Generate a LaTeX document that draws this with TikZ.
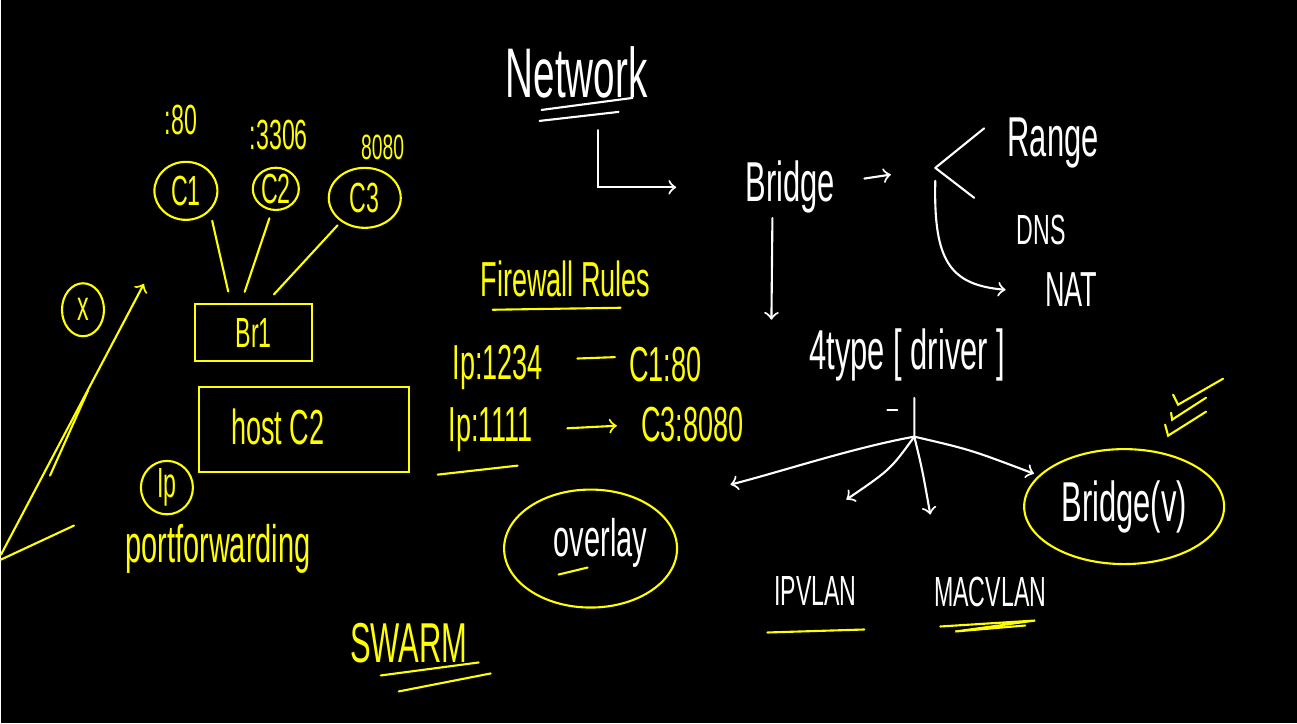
\documentclass[tikz,border=0pt]{standalone}
\usepackage{fontspec}
\setmainfont{Liberation Sans}
\usepackage{graphicx}
\usetikzlibrary{shapes.geometric}
\definecolor{CYellow}{HTML}{FFFF00}
\newcommand{\hw}[1]{\scalebox{0.55}[1]{#1}}
\newcommand{\fs}[1]{\fontsize{#1}{#1}\selectfont}

\begin{document}
\begin{tikzpicture}[x=0.01cm, y=-0.01cm, line width=0.6pt,
    wtxt/.style={text=white, inner sep=1pt, anchor=base},
    ytxt/.style={text=CYellow, inner sep=1pt, anchor=base},
    wline/.style={draw=white, line cap=round},
    yline/.style={draw=CYellow, line cap=round},
    blob/.style={draw=CYellow, ellipse, inner sep=0pt, text=CYellow},
    frame/.style={draw=CYellow, rectangle, inner sep=0pt, text=CYellow}
]
  \fill[black] (0,0) rectangle (1297,724);

  % containers on the left
  \node[ytxt, font=\fs{12}] (p80) at (180,135) {\hw{:80}};
  \node[ytxt, font=\fs{12}] (p3306) at (278,150) {\hw{:3306}};
  \node[ytxt, font=\fs{10}] (p8080) at (382,160) {\hw{8080}};
  \node[blob, font=\fs{12}, minimum width=0.63cm, minimum height=0.58cm] (c1) at (185,191) {\hw{C1}};
  \node[blob, font=\fs{12}, minimum width=0.46cm, minimum height=0.42cm] (c2) at (275,189) {\hw{C2}};
  \node[blob, font=\fs{12}, minimum width=0.72cm, minimum height=0.60cm] (c3) at (364,198) {\hw{C3}};
  \node[frame, font=\fs{12}, minimum width=1.17cm, minimum height=0.57cm] (br1) at (253,333) {\hw{Br1}};
  \node[frame, minimum width=2.10cm, minimum height=0.85cm] (hostc2) at (303,430) {};
  \node[ytxt, font=\fs{14}] (hosttxt) at (277,445) {\hw{host C2}};
  \node[blob, font=\fs{12}, minimum width=0.42cm, minimum height=0.53cm] (xx) at (82,310) {\hw{x}};
  \node[blob, font=\fs{12}, minimum width=0.52cm, minimum height=0.47cm] (ip) at (166,488) {\hw{Ip}};
  \node[ytxt, font=\fs{15}] (portfw) at (217,563) {\hw{portforwarding}};

  \draw[yline, shorten <=0.1cm, shorten >=0.12cm] (c1.-40) -- ([xshift=-0.23cm]br1.north);
  \draw[yline, shorten <=0.08cm, shorten >=0.12cm] (c2.-100) -- ([xshift=-0.13cm]br1.north);
  \draw[yline, shorten <=0.05cm, shorten >=0.12cm] (c3.-135) -- ([xshift=0.12cm]br1.north);

  \coordinate (sw) at (0,555);
  \coordinate (tip) at (143,284);
  \draw[yline, ->] (sw) -- (tip);
  \draw[yline] (49,476) -- (87,391);
  \draw[yline] (0,560) -- (73,526);

  % firewall rules
  \node[ytxt, font=\fs{14}] (fw) at (565,297) {\hw{Firewall Rules}};
  \draw[yline] (492,310) -- (620,308);
  \node[ytxt, font=\fs{14}] (ip1) at (497,380) {\hw{Ip:1234}};
  \node[ytxt, font=\fs{14}] (c1p) at (665,382) {\hw{C1:80}};
  \node[ytxt, font=\fs{14}] (ip2) at (490,442) {\hw{Ip:1111}};
  \node[ytxt, font=\fs{14}] (c3p) at (692,442) {\hw{C3:8080}};
  \draw[yline, shorten <=0.3cm, shorten >=0.1cm] ([yshift=0.08cm]ip1.east) -- ([yshift=0.08cm]c1p.west);
  \draw[yline, ->, shorten <=0.3cm, shorten >=0.2cm] (ip2.east) -- (c3p.west);
  \draw[yline] (437,475) -- (517,466);

  \node[blob, minimum width=1.73cm, minimum height=1.18cm] (ovl) at (590,549) {};
  \node[wtxt, font=\fs{15}] (ovltxt) at (600,557) {\hw{overlay}};
  \draw[yline] (558,575) -- (587,568);

  \node[ytxt, font=\fs{16}] (swarm) at (408,663) {\hw{SWARM}};
  \draw[yline] (380,676) -- (478,663);
  \draw[yline] (398,692) -- (490,674);

  % network tree
  \node[wtxt, font=\fs{20}] (net) at (576,98) {\hw{Network}};
  \draw[wline] (541,110) -- (632,98);
  \draw[wline] (539,121) -- (618,112);
  \node[wtxt, font=\fs{16}] (bridge) at (790,202) {\hw{Bridge}};
  \draw[wline, ->, shorten >=0.65cm] ([xshift=0.21cm, yshift=-0.27cm]net.south) |- (bridge.west);

  \node[wtxt, font=\fs{16}] (range) at (1053,157) {\hw{Range}};
  \node[wtxt, font=\fs{12}] (dns) at (1041,245) {\hw{DNS}};
  \node[wtxt, font=\fs{14}] (nat) at (1071,307) {\hw{NAT}};
  \coordinate (fork) at (935,168);
  \draw[wline, ->, shorten <=0.25cm, shorten >=0.45cm] ([yshift=0.05cm]bridge.east) -- (fork);
  \draw[wline] (fork) -- ([xshift=-0.19cm, yshift=0.15cm]range.west);
  \draw[wline] (fork) -- ([xshift=-0.38cm, yshift=0.13cm]dns.north west);
  \draw[wline, ->] ([yshift=-0.13cm]fork) .. controls (933,262) and (950,285) .. ([xshift=-0.35cm]nat.west);

  \node[wtxt, font=\fs{16}] (drv) at (907,370) {\hw{4type [ driver ]}};
  \coordinate (drvtop) at (771,320);
  \draw[wline, ->] ([xshift=-0.18cm]bridge.south) -- (drvtop);

  \coordinate (hub) at (914,437);
  \draw[wline] ([xshift=0.07cm, yshift=-0.12cm]drv.south) -- (hub);
  \draw[wline] (887,410) -- (897,410);

  \node[blob, text=white, font=\fs{16}, minimum width=2.0cm, minimum height=1.15cm] (bv) at (1124,507) {\hw{Bridge(v)}};
  \coordinate (ipv) at (730,485);
  \coordinate (mid) at (846,500);
  \coordinate (low) at (930,515);
  \draw[wline, ->] (hub) .. controls (853,448) and (781,472) .. (ipv);
  \draw[wline, ->] (hub) .. controls (890,470) .. (mid);
  \draw[wline, ->] (hub) .. controls (922,470) .. (low);
  \draw[wline, ->, shorten >=0.05cm] (hub) .. controls (970,450) .. (bv.160);

  \node[wtxt, font=\fs{12}] (ipvlan) at (815,606) {\hw{IPVLAN}};
  \node[wtxt, font=\fs{12}] (macvlan) at (990,607) {\hw{MACVLAN}};
  \draw[yline] (767,633) -- (864,630);
  \draw[yline] (940,627) -- (1035,621) -- (955,632) -- (1025,626);

  % ticks
  \draw[yline] (1173,395) -- (1178,405) -- (1223,379);
  \draw[yline] (1171,413) -- (1172,420) -- (1206,398);
  \draw[yline] (1165,425) -- (1168,436) -- (1206,412);
\end{tikzpicture}
\end{document}
